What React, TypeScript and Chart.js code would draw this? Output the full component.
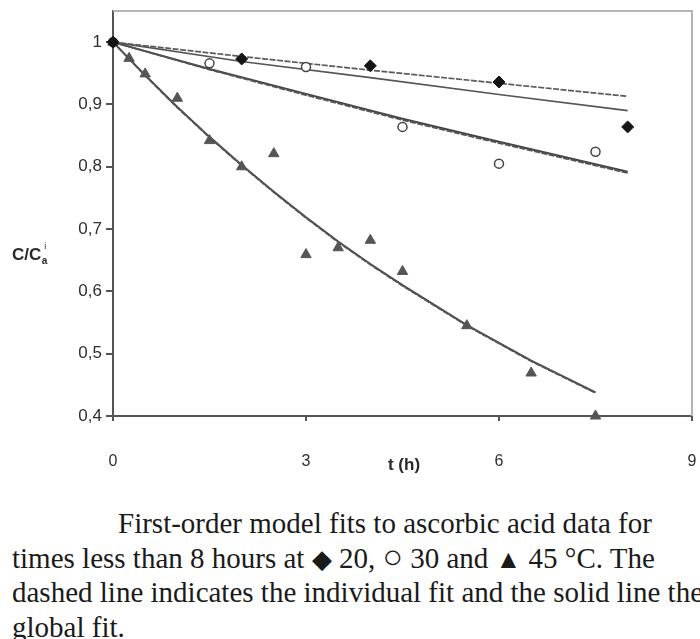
import React, { useEffect, useRef } from "react";
import { Chart, registerables } from "chart.js";

Chart.register(...registerables);

// ---- data ----
const t20 = [0, 2, 4, 6, 8];
const c20 = [1, 0.973, 0.962, 0.936, 0.864];

const t30 = [0, 1.5, 3, 4.5, 6, 7.5];
const c30 = [1, 0.966, 0.96, 0.864, 0.805, 0.824];

const t45 = [0, 0.25, 0.5, 1, 1.5, 2, 2.5, 3, 3.5, 4, 4.5, 5.5, 6.5, 7.5];
const c45 = [1, 0.974, 0.949, 0.91, 0.842, 0.8, 0.821, 0.659, 0.67, 0.682, 0.632, 0.545, 0.469, 0.4];

// fitted curves
const fitT20 = [0, 2, 4, 6, 8];
const fit20Individual = [1, 0.977, 0.955, 0.934, 0.913];
const fit20Global = [1, 0.969, 0.943, 0.916, 0.89];

const fitT30 = [0, 1.5, 3, 4.5, 6, 8];
const fit30Individual = [1, 0.956, 0.915, 0.875, 0.838, 0.79];
const fit30Global = [1, 0.957, 0.917, 0.877, 0.84, 0.792];

const fitT45 = [0, 0.5, 1, 1.5, 2, 2.5, 3, 3.5, 4, 4.5, 5.5, 6.5, 7.5];
const fit45Individual = [1, 0.946, 0.895, 0.847, 0.802, 0.759, 0.718, 0.679, 0.643, 0.609, 0.545, 0.488, 0.437];
const fit45Global = [1, 0.947, 0.896, 0.848, 0.803, 0.76, 0.719, 0.68, 0.644, 0.61, 0.546, 0.489, 0.438];

const xTickValues = [0, 3, 6, 9];
const xTickLabels = ["0", "3", "6", "9"];
const yTickValues = [0.4, 0.5, 0.6, 0.7, 0.8, 0.9, 1.0];
const yTickLabels = ["0,4", "0,5", "0,6", "0,7", "0,8", "0,9", "1"];

const xTitle = "t (h)";
const yTitleMain = "C/C";
const yTitleSub = "a";
const yTitleSup = "i";

const captionLine1 = "First-order model fits to ascorbic acid data for";
const captionLine2Parts = ["times less than 8 hours at ", "\u25C6", " 20, ", "\u25CB", " 30 and ", "\u25B2", " 45 \u00B0C. The"];
const captionLine3 = "dashed line indicates the individual fit and the solid line the";
const captionLine4 = "global fit.";

const pts = (xs: number[], ys: number[]) => xs.map((x, i) => ({ x, y: ys[i] }));

const SANS = "'Liberation Sans', Arial, sans-serif";

const decorPlugin = {
  id: "decor",
  beforeDatasetsDraw(chart: any) {
    const { ctx, chartArea } = chart;
    ctx.save();
    ctx.strokeStyle = "#b4b4b4";
    ctx.lineWidth = 2;
    ctx.beginPath();
    ctx.moveTo(chartArea.left, chartArea.top);
    ctx.lineTo(chartArea.right, chartArea.top);
    ctx.lineTo(chartArea.right, chartArea.bottom);
    ctx.stroke();
    ctx.restore();
  },
  afterDraw(chart: any) {
    const { ctx } = chart;
    ctx.save();
    ctx.fillStyle = "#2a2a2a";
    ctx.textBaseline = "middle";
    // y title
    ctx.font = `bold 17px ${SANS}`;
    ctx.textAlign = "left";
    const x0 = 12;
    const y0 = 255;
    ctx.fillText(yTitleMain, x0, y0);
    const w = ctx.measureText(yTitleMain).width;
    ctx.font = `bold 10px ${SANS}`;
    ctx.fillText(yTitleSub, x0 + w + 0.5, y0 + 6);
    ctx.font = `9px ${SANS}`;
    ctx.fillText(yTitleSup, x0 + w + 3, y0 - 8);
    // x title
    ctx.font = `bold 17px ${SANS}`;
    ctx.textAlign = "center";
    ctx.fillText(xTitle, 404, 465);
    ctx.restore();
  },
};

export default function App() {
  const canvasRef = useRef<HTMLCanvasElement | null>(null);

  useEffect(() => {
    if (!canvasRef.current) return;
    const lineBase = { showLine: true, pointRadius: 0, fill: false, clip: false as any, order: 2, tension: 0 };
    const chart = new Chart(canvasRef.current, {
      type: "scatter",
      data: {
        datasets: [
          { ...lineBase, label: "20 ind", data: pts(fitT20, fit20Individual), borderColor: "#5a5a5a", borderWidth: 1.7, borderDash: [6, 1.5] },
          { ...lineBase, label: "20 glob", data: pts(fitT20, fit20Global), borderColor: "#555", borderWidth: 1.7 },
          { ...lineBase, label: "30 ind", data: pts(fitT30, fit30Individual), borderColor: "#555", borderWidth: 1.8, borderDash: [6, 1.5] },
          { ...lineBase, label: "30 glob", data: pts(fitT30, fit30Global), borderColor: "#444", borderWidth: 2 },
          { ...lineBase, label: "45 ind", data: pts(fitT45, fit45Individual), borderColor: "#555", borderWidth: 1.8, borderDash: [6, 1.5] },
          { ...lineBase, label: "45 glob", data: pts(fitT45, fit45Global), borderColor: "#4a4a4a", borderWidth: 2 },
          {
            label: "20 °C", data: pts(t20, c20), showLine: false, pointStyle: "rectRot", pointRadius: 6,
            backgroundColor: "#151515", borderColor: "#151515", borderWidth: 1, clip: false as any, order: 0,
          },
          {
            label: "30 °C", data: pts(t30, c30), showLine: false, pointStyle: "circle", pointRadius: 4.5,
            backgroundColor: "#fff", borderColor: "#444", borderWidth: 1.5, clip: false as any, order: 0,
          },
          {
            label: "45 °C", data: pts(t45, c45), showLine: false, pointStyle: "triangle", pointRadius: 6,
            backgroundColor: "#555", borderColor: "#555", borderWidth: 1, clip: false as any, order: 0,
          },
        ],
      },
      options: {
        animation: false,
        responsive: false,
        devicePixelRatio: 1,
        layout: { padding: { top: 11, right: 8, left: 0, bottom: 0 } },
        plugins: { legend: { display: false }, tooltip: { enabled: false } },
        scales: {
          x: {
            type: "linear",
            min: 0,
            max: 9,
            afterBuildTicks: (scale: any) => {
              scale.ticks = xTickValues.map((v) => ({ value: v }));
            },
            afterFit: (scale: any) => {
              scale.height = 84;
              scale.paddingLeft = 0;
              scale.paddingRight = 0;
            },
            ticks: {
              callback: (v: any) => {
                const i = xTickValues.indexOf(Number(v));
                return i >= 0 ? xTickLabels[i] : "";
              },
              color: "#2e2e2e",
              font: { family: SANS, size: 16 },
              padding: 31,
              maxRotation: 0,
              autoSkip: false,
            },
            grid: { drawOnChartArea: false, drawTicks: true, tickLength: 5, color: "#555", lineWidth: 2 },
            border: { display: true, color: "#555", width: 2 },
          },
          y: {
            type: "linear",
            min: 0.4,
            max: 1.05,
            afterBuildTicks: (scale: any) => {
              scale.ticks = yTickValues.map((v) => ({ value: v }));
            },
            afterFit: (scale: any) => {
              scale.width = 113;
              scale.paddingTop = 0;
              scale.paddingBottom = 0;
            },
            ticks: {
              callback: (v: any) => {
                const i = yTickValues.findIndex((t) => Math.abs(t - Number(v)) < 1e-6);
                return i >= 0 ? yTickLabels[i] : "";
              },
              color: "#2e2e2e",
              font: { family: SANS, size: 17 },
              padding: 4,
              autoSkip: false,
            },
            grid: { drawOnChartArea: false, drawTicks: true, tickLength: 7, color: "#555", lineWidth: 2 },
            border: { display: true, color: "#555", width: 2 },
          },
        },
      },
      plugins: [decorPlugin],
    });
    return () => chart.destroy();
  }, []);

  return (
    <div style={{ position: "absolute", left: 0, top: 0, width: 700, height: 639, background: "#fff", overflow: "hidden" }}>
      <canvas ref={canvasRef} width={700} height={500} style={{ display: "block", width: 700, height: 500 }} />
      <div
        style={{
          position: "absolute",
          left: 12,
          top: 506,
          width: 688,
          fontFamily: "'Liberation Serif', 'Times New Roman', serif",
          fontSize: 29,
          lineHeight: "34.5px",
          color: "#1a1a1a",
          whiteSpace: "nowrap",
          overflow: "hidden",
        }}
      >
        <div style={{ paddingLeft: 106 }}>{captionLine1}</div>
        <div style={{ height: 34.5 }}>
          {captionLine2Parts.map((p, i) => (
            <span key={i} style={p === "\u25CB" ? { fontSize: 34, lineHeight: "20px" } : p === "\u25C6" || p === "\u25B2" ? { fontSize: 26, lineHeight: "20px" } : undefined}>
              {p}
            </span>
          ))}
        </div>
        <div>{captionLine3}</div>
        <div>{captionLine4}</div>
      </div>
    </div>
  );
}
